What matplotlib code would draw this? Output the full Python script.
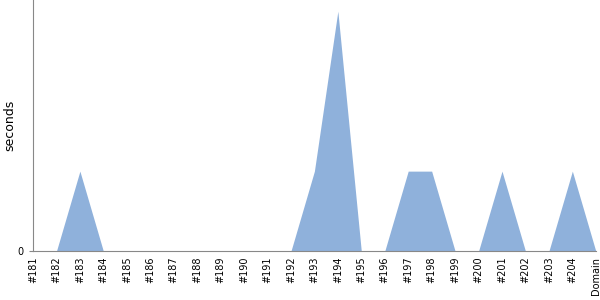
import matplotlib
matplotlib.use("Agg")
import matplotlib.pyplot as plt

labels = ["#181", "#182", "#183", "#184", "#185", "#186", "#187", "#188",
          "#189", "#190", "#191", "#192", "#193", "#194", "#195", "#196",
          "#197", "#198", "#199", "#200", "#201", "#202", "#203", "#204",
          "Domain"]
seconds = [0, 0, 1, 0, 0, 0, 0, 0, 0, 0, 0, 0, 1, 3, 0, 0,
           1, 1, 0, 0, 1, 0, 0, 1, 0]

fig = plt.figure(figsize=(6, 3), dpi=100)
ax = fig.add_axes([0.055, 0.163, 0.938, 0.837])

x = range(len(labels))
ax.fill_between(x, seconds, 0, color="#8fb1db", linewidth=0)

ax.set_xlim(0, len(labels) - 1)
ax.set_ylim(0, 3.14)
ax.set_xticks(list(x))
ax.set_xticklabels(labels, rotation=90, fontsize=7)
ax.set_yticks([0])
ax.set_yticklabels(["0"], fontsize=7)
ax.tick_params(axis="x", length=0, pad=4)
ax.tick_params(axis="y", length=3, color="#888888")
ax.set_ylabel("seconds", fontsize=9)
ax.yaxis.set_label_coords(-0.03, 0.5)

for s in ["top", "right"]:
    ax.spines[s].set_visible(False)
for s in ["left", "bottom"]:
    ax.spines[s].set_color("#888888")

fig.savefig("out.png")
